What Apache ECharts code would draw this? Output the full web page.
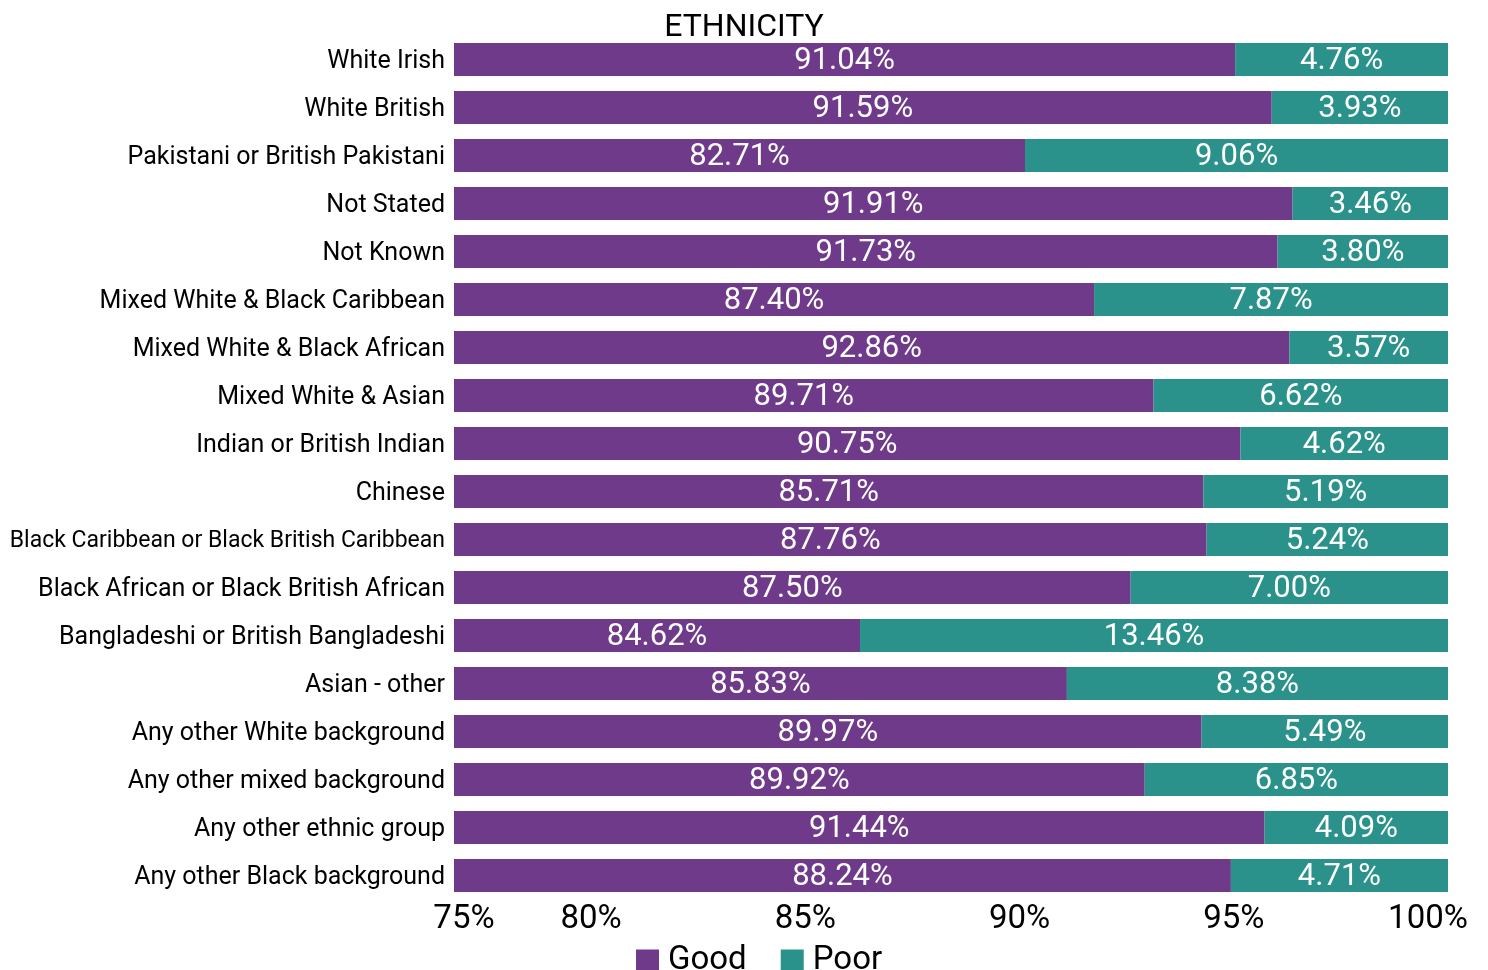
<!DOCTYPE html>
<html>
<head>
<meta charset="utf-8">
<title>Ethnicity</title>
<script src="https://cdn.jsdelivr.net/npm/echarts@6/dist/echarts.min.js"></script>
<style>
  html, body { margin: 0; padding: 0; background: #fff; }
  #chart { width: 1488px; height: 970px; }
</style>
</head>
<body>
<div id="chart"></div>
<script>
// categories, top to bottom
const categories = [
  'White Irish',
  'White British',
  'Pakistani or British Pakistani',
  'Not Stated',
  'Not Known',
  'Mixed White & Black Caribbean',
  'Mixed White & Black African',
  'Mixed White & Asian',
  'Indian or British Indian',
  'Chinese',
  'Black Caribbean or Black British Caribbean',
  'Black African or Black British African',
  'Bangladeshi or British Bangladeshi',
  'Asian - other',
  'Any other White background',
  'Any other mixed background',
  'Any other ethnic group',
  'Any other Black background',
];

// % reporting good / poor
const goodValues = [91.04, 91.59, 82.71, 91.91, 91.73, 87.40, 92.86, 89.71, 90.75, 85.71, 87.76, 87.50, 84.62, 85.83, 89.97, 89.92, 91.44, 88.24];
const poorValues = [4.76, 3.93, 9.06, 3.46, 3.80, 7.87, 3.57, 6.62, 4.62, 5.19, 5.24, 7.00, 13.46, 8.38, 5.49, 6.85, 4.09, 4.71];

// x axis ticks
const tickValues = [75, 80, 85, 90, 95, 100];
const tickLabels = ['75%', '80%', '85%', '90%', '95%', '100%'];

const COLORS = {
  good: '#6E3A89',
  poor: '#2A928A',
  text: '#000000',
};
const FONT = 'Roboto';
const X_MIN = 76.8;

// bars are drawn as a 100% stack of good + poor
const goodShare = goodValues.map((g, i) => (g / (g + poorValues[i])) * 100);
const poorShare = goodShare.map((s) => 100 - s);

const labelTicks = tickValues.map((v) => Math.max(v, X_MIN));

const chart = echarts.init(document.getElementById('chart'));

const option = {
  animation: false,
  title: {
    text: 'ETHNICITY',
    left: 'center',
    top: 7,
    textStyle: {
      fontFamily: FONT,
      fontSize: 32,
      fontWeight: 'normal',
      color: COLORS.text,
    },
  },
  legend: {
    left: 631,
    top: 939,
    icon: 'rect',
    itemWidth: 23,
    itemHeight: 22,
    itemGap: 34,
    textStyle: {
      fontFamily: FONT,
      fontSize: 33,
      color: COLORS.text,
      padding: [0, 0, 0, 4],
    },
    data: ['Good', 'Poor'],
  },
  grid: {
    left: 454,
    right: 40,
    top: 35.5,
    height: 864,
    containLabel: false,
  },
  xAxis: {
    type: 'value',
    min: X_MIN,
    max: 100,
    axisLine: { show: false },
    axisTick: { show: false },
    splitLine: { show: false },
    axisLabel: {
      customValues: labelTicks,
      margin: 4,
      fontFamily: FONT,
      fontSize: 33,
      color: COLORS.text,
      formatter: (value) => {
        const i = labelTicks.indexOf(value);
        if (i < 0) return '';
        if (i === 0) return '{first|' + tickLabels[i] + '}';
        if (i === tickLabels.length - 1) return '{last|' + tickLabels[i] + '}';
        return tickLabels[i];
      },
      rich: {
        first: { fontFamily: FONT, fontSize: 33, color: COLORS.text, padding: [0, 0, 0, 20] },
        last: { fontFamily: FONT, fontSize: 33, color: COLORS.text, padding: [0, 40, 0, 0] },
      },
    },
  },
  yAxis: {
    type: 'category',
    inverse: true,
    data: categories,
    axisLine: { show: false },
    axisTick: { show: false },
    axisLabel: {
      margin: 9,
      fontFamily: FONT,
      fontSize: 25,
      color: COLORS.text,
      padding: [4, 0, 0, 0],
      // the longest name is squeezed a little, as in the source
      formatter: (value) => (value.length > 40 ? '{narrow|' + value + '}' : value),
      rich: {
        narrow: { fontFamily: FONT, fontSize: 23, color: COLORS.text },
      },
    },
  },
  series: [
    {
      name: 'Good',
      type: 'bar',
      stack: 'total',
      barWidth: 33,
      clip: true,
      data: goodShare,
      itemStyle: { color: COLORS.good },
      label: {
        show: true,
        position: 'inside',
        offset: [0, 2],
        color: '#ffffff',
        fontFamily: FONT,
        fontSize: 31,
        formatter: (p) => goodValues[p.dataIndex].toFixed(2) + '%',
      },
    },
    {
      name: 'Poor',
      type: 'bar',
      stack: 'total',
      barWidth: 33,
      clip: true,
      data: poorShare,
      itemStyle: { color: COLORS.poor },
      label: {
        show: true,
        position: 'inside',
        offset: [0, 2],
        color: '#ffffff',
        fontFamily: FONT,
        fontSize: 31,
        formatter: (p) => poorValues[p.dataIndex].toFixed(2) + '%',
      },
    },
  ],
};

chart.setOption(option);

window.addEventListener('resize', () => chart.resize());
</script>
</body>
</html>
